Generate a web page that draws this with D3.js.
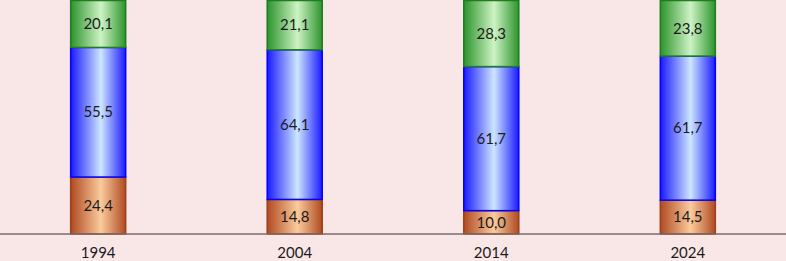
<!DOCTYPE html>
<html>
<head>
<meta charset="utf-8">
<script src="https://cdn.jsdelivr.net/npm/d3@7.9.0/dist/d3.min.js"></script>
<style>
  html, body { margin: 0; padding: 0; background: #f9e6e7; }
  svg { display: block; }
  text { font-family: Lato, "Open Sans", sans-serif; font-size: 15px; fill: #1b1b1b; }
</style>
</head>
<body>
<div id="chart"></div>
<script>
const years = ['1994', '2004', '2014', '2024'];
const bottomVals = [24.4, 14.8, 10.0, 14.5];
const middleVals = [55.5, 64.1, 61.7, 61.7];
const topVals = [20.1, 21.1, 28.3, 23.8];

const width = 786;
const height = 261;
const axisY = 234;

const seriesStyle = [
  { key: 'bottom', dark: '#b04a22', light: '#fbcb9c', stroke: '#9c3f1b' },
  { key: 'middle', dark: '#1a1aff', light: '#cde6ff', stroke: '#0000ff' },
  { key: 'top', dark: '#2c942c', light: '#cdf3c4', stroke: '#1f7d1f' },
];

const rows = years.map((y, i) => ({ year: y, bottom: bottomVals[i], middle: middleVals[i], top: topVals[i] }));
const stacked = d3.stack().keys(['bottom', 'middle', 'top'])(rows);

const x = d3.scaleBand().domain(years).range([0, width]).paddingInner(0.715).paddingOuter(0.357);
const y = d3.scaleLinear().domain([0, 100]).range([axisY, 0.5]);

const svg = d3.select('#chart').append('svg').attr('width', width).attr('height', height);

const defs = svg.append('defs');
seriesStyle.forEach(s => {
  const g = defs.append('linearGradient').attr('id', 'grad-' + s.key).attr('x1', '0%').attr('x2', '100%');
  g.append('stop').attr('offset', '0%').attr('stop-color', s.dark);
  g.append('stop').attr('offset', '55%').attr('stop-color', s.light);
  g.append('stop').attr('offset', '100%').attr('stop-color', s.dark);
});

const layers = svg.append('g').selectAll('g').data(stacked).join('g')
  .attr('fill', (d, i) => `url(#grad-${seriesStyle[i].key})`)
  .attr('stroke', (d, i) => seriesStyle[i].stroke);

layers.selectAll('rect').data(d => d).join('rect')
  .attr('x', d => x(d.data.year) + 0.5)
  .attr('y', d => y(d[1]))
  .attr('width', x.bandwidth() - 1)
  .attr('height', d => y(d[0]) - y(d[1]))
  .attr('stroke-width', 1.5);

layers.selectAll('text').data(d => d).join('text')
  .attr('x', d => x(d.data.year) + x.bandwidth() / 2)
  .attr('y', d => (y(d[0]) + y(d[1])) / 2)
  .attr('dy', '0.35em')
  .attr('text-anchor', 'middle')
  .attr('stroke', 'none')
  .text(d => d3.format('.1f')(d[1] - d[0]).replace('.', ','));

const axis = svg.append('g').attr('transform', `translate(0,${axisY})`)
  .call(d3.axisBottom(x).tickSize(0).tickPadding(13));
axis.select('.domain').attr('d', `M0,0H${width}`).attr('stroke', '#7d6b6b').attr('stroke-width', 1.3);
axis.selectAll('text').style('font-size', '15px').style('font-family', 'Lato, "Open Sans", sans-serif').attr('fill', '#1b1b1b');
</script>
</body>
</html>
